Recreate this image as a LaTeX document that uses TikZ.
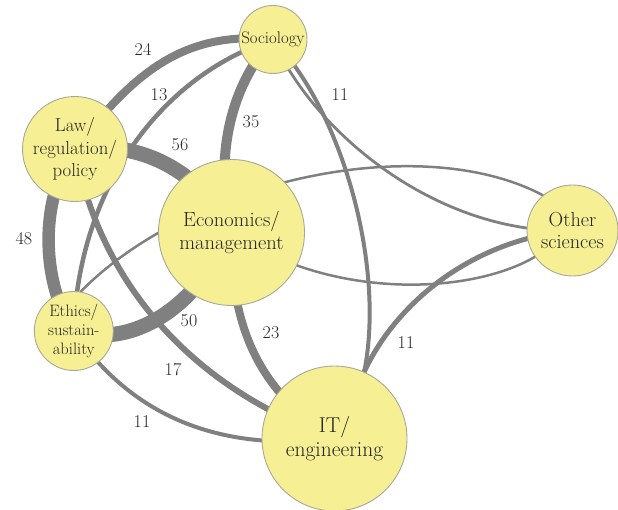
\documentclass[tikz,border=0pt]{standalone}
\definecolor{nodefill}{HTML}{F6EF93}
\definecolor{nodeline}{HTML}{A9A79A}
\definecolor{edgegray}{HTML}{808080}
\definecolor{txt}{HTML}{262626}
\pgfdeclarelayer{bg}
\pgfsetlayers{bg,main}
\begin{document}
\begin{tikzpicture}[x=1pt,y=-1pt,
  disc/.style={circle, draw=nodeline, line width=0.9pt, fill=nodefill, inner sep=0pt, align=center, text=txt},
  edge/.style={draw=edgegray, line cap=round},
  num/.style={text=txt, inner sep=0pt, font=\fontsize{18}{20}\selectfont}]
\useasboundingbox (0,0) rectangle (618,510);
% nodes
\node[disc, minimum size=68pt, font=\fontsize{16.8}{18}\selectfont] (soc) at (273,39.5) {Sociology};
\node[disc, minimum size=98pt, font=\fontsize{18.8}{22.5}\selectfont] (law) at (75,149) {Law/\\regulation/\\policy};
\node[disc, minimum size=146pt, font=\fontsize{20.5}{23.5}\selectfont] (eco) at (231.5,232.5) {Economics/\\management};
\node[disc, minimum size=91pt, font=\fontsize{20.3}{22.5}\selectfont] (oth) at (572.5,230.5) {Other\\sciences};
\node[disc, minimum size=79pt, font=\fontsize{16.5}{19}\selectfont] (eth) at (73.8,331) {Ethics/\\sustain-\\ability};
\node[disc, minimum size=145pt, font=\fontsize{21.5}{24}\selectfont] (it) at (334.5,438.5) {IT/\\engineering};
% edges
\begin{pgfonlayer}{bg}
\draw[edge, line width=8pt] (law.center) .. controls (130,78) and (180,30) .. (soc.center);
\draw[edge, line width=4.5pt] (soc.center) .. controls (155,78) and (78,195) .. (eth.center);
\draw[edge, line width=15pt] (law.center) .. controls (140,140) and (200,170) .. (eco.center);
\draw[edge, line width=10pt] (soc.center) .. controls (235,80) and (212,150) .. (eco.center);
\draw[edge, line width=12.5pt] (law.center) .. controls (38,200) and (42,285) .. (eth.center);
\draw[edge, line width=15pt] (eth.center) .. controls (120,345) and (185,325) .. (eco.center);
\draw[edge, line width=6pt] (law.center) .. controls (95,260) and (170,380) .. (it.center);
\draw[edge, line width=4pt] (eth.center) .. controls (120,400) and (200,455) .. (it.center);
\draw[edge, line width=8pt] (eco.center) .. controls (230,320) and (255,390) .. (it.center);
\draw[edge, line width=4pt] (soc.center) .. controls (345,115) and (385,270) .. (it.66);
\draw[edge, line width=5pt] (oth.center) .. controls (470,240) and (395,305) .. (it.66);
\draw[edge, line width=2.8pt] (soc.center) .. controls (315,135) and (440,235) .. (oth.center);
\draw[edge, line width=2.5pt] (eth.80) .. controls (190,180) and (420,130) .. (oth.130);
\draw[edge, line width=2.5pt] (eco.center) .. controls (330,300) and (470,295) .. (oth.215);
\end{pgfonlayer}
% labels
\node[num] (l24) at (143,49) {24};
\node[num] (l13) at (159,95) {13};
\node[num] (l56) at (180,145) {56};
\node[num] (l35) at (251,122) {35};
\node[num] (l11a) at (340,95) {11};
\node[num] (l48) at (24,239) {48};
\node[num] (l50) at (189,321) {50};
\node[num] (l23) at (271,333) {23};
\node[num] (l17) at (173,370) {17};
\node[num] (l11b) at (142,422) {11};
\node[num] (l11c) at (406,343) {11};
\end{tikzpicture}
\end{document}
